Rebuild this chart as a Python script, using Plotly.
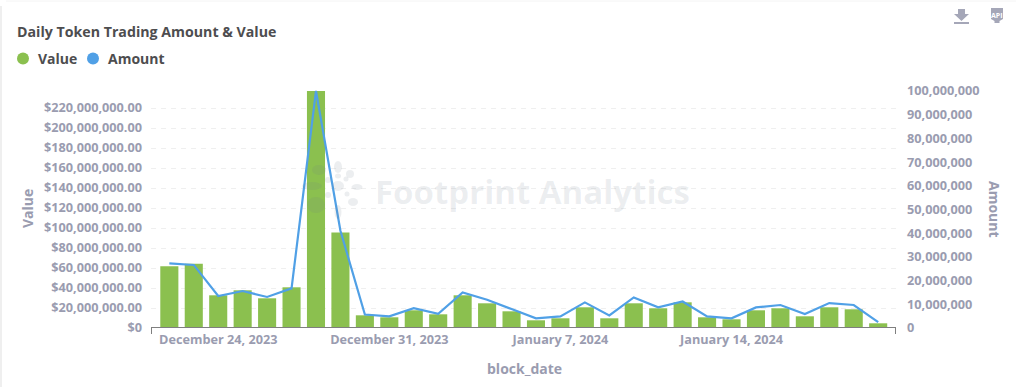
import plotly.graph_objects as go
import pandas as pd

dates = pd.date_range("2023-12-22", "2024-01-20").strftime("%Y-%m-%d").tolist()
value_m = [61.7, 64.3, 32.7, 37.7, 29.7, 40.7, 237, 95.5, 12.7, 10.7, 17.7, 13.7, 32.7, 24.7, 16.7,
           7.7, 9.7, 20.7, 9.7, 24.7, 19.7, 25.7, 10.7, 8.7, 17.7, 19.7, 11.7, 20.7, 18.7, 4.7]
amount_m = [27.3, 26.6, 13.5, 15.6, 13.1, 16.7, 100, 41, 5.7, 4.9, 8.4, 6.0, 15.0, 11.9, 8.0,
            4.1, 4.9, 10.8, 5.3, 12.9, 8.7, 11.2, 4.9, 4.1, 8.7, 9.7, 5.9, 10.5, 9.7, 2.5]
values = [v * 1e6 for v in value_m]
amounts = [a * 1e6 for a in amount_m]
x_tick_vals = ["2023-12-24", "2023-12-31", "2024-01-07", "2024-01-14"]
x_tick_text = ["December 24, 2023", "December 31, 2023", "January 7, 2024", "January 14, 2024"]
left_ticks = list(range(0, 221, 20))
left_text = ["$0"] + [f"${t},000,000.00" for t in left_ticks[1:]]
right_ticks = list(range(0, 101, 10))
right_text = ["0"] + [f"{t},000,000" for t in right_ticks[1:]]

W, H = 1022, 387
FONT = "Open Sans"
GREEN, BLUE, TICK, DARK = "#8bc04f", "#50a0e6", "#9a9cb0", "#4d4d4f"
L, R, T, B = 151, 896, 90, 328
px = lambda x: (x - L) / (R - L)
py = lambda y: (B - y) / (B - T)

fig = go.Figure()
fig.add_bar(x=dates, y=values, name="Value", marker=dict(color=GREEN, line_width=0), yaxis="y")
fig.add_scatter(x=dates, y=amounts, name="Amount", mode="lines", line=dict(color=BLUE, width=2.2), yaxis="y2")

shapes = []
def seg(x0, y0, x1, y1, color, width=1):
    shapes.append(dict(type="line", xref="paper", yref="paper", x0=px(x0), x1=px(x1), y0=py(y0), y1=py(y1),
                       line=dict(color=color, width=width), layer="above"))
def dot(cx, cy, rx, color, ry=None):
    ry = rx if ry is None else ry
    shapes.append(dict(type="circle", xref="paper", yref="paper", x0=px(cx - rx), x1=px(cx + rx), y0=py(cy - ry), y1=py(cy + ry),
                       fillcolor=color, line_width=0, layer="above"))
def poly(points, color):
    path = "M" + " L".join(f"{px(a):.5f},{py(b):.5f}" for a, b in points) + " Z"
    shapes.append(dict(type="path", xref="paper", yref="paper", path=path, fillcolor=color, line_width=0, layer="above"))

# axis line with end ticks
seg(L, B - .5, R, B - .5, "#7f7f7f", 1)
seg(L + .5, B, L + .5, B + 6, "#7f7f7f", 1)
seg(R - .5, B, R - .5, B + 6, "#7f7f7f", 1)
# card edge
seg(1, 6, 1, H, "#efefef", 2)
seg(6, 1, 1016, 1, "#f4f4f4", 1)
# legend dots
dot(23, 58.5, 6, GREEN)
dot(93, 58.5, 6, BLUE)
# download icon
poly([(958, 9), (965, 9), (965, 14), (969, 14), (961.5, 21), (954, 14), (958, 14)], "#a5a7b8")
poly([(954, 22), (969, 22), (969, 24), (954, 24)], "#a5a7b8")
# api badge
poly([(991, 8), (1003, 8), (1003, 19), (999.5, 21), (999.5, 23), (994.5, 23), (994.5, 21), (991, 19)], "#a5a7b8")
# watermark logo
wm = "rgba(110,120,140,0.13)"
for cx, cy, rx, ry in [(319, 170, 7, 5), (312, 186, 10, 4), (316, 205, 9, 8), (338, 167, 4, 6), (350, 174, 4, 4),
                       (357, 187, 5.5, 3), (353, 202, 5, 4), (338, 212, 3.5, 7), (338, 176, 3, 2.5), (346, 179, 2.5, 2.5),
                       (338, 186, 6, 5), (347, 194, 2.5, 2.5), (328, 195, 3, 3), (328, 180, 3, 3)]:
    dot(cx, cy, rx, wm, ry)

ann = []
def label(x, y, text, size, color, anchor="left", angle=0, weight=700):
    ann.append(dict(xref="paper", yref="paper", x=px(x), y=py(y), text=text, showarrow=False, xanchor=anchor, yanchor="middle",
                    textangle=angle, font=dict(family=FONT, size=size, color=color, weight=weight)))
label(15, 31, "Daily Token Trading Amount & Value", 14.2, DARK)
label(35.5, 58.5, "Value", 14, DARK)
label(105.5, 58.5, "Amount", 14, DARK)
label(27, 209, "Value", 14, TICK, "center", -90)
label(995, 209, "Amount", 14, TICK, "center", 90)
label(524, 368, "block_date", 14, TICK, "center")
label(373, 191, "Footprint Analytics", 33, "rgba(110,120,140,0.13)")
label(997, 15, "API", 7, "#ffffff", "center")

fig.update_layout(
    width=W, height=H, autosize=False, showlegend=False, plot_bgcolor="white", paper_bgcolor="white",
    margin=dict(l=L, r=W - R, t=T, b=H - B, pad=0), bargap=0.26, shapes=shapes, annotations=ann,
    font=dict(family=FONT, size=12.7, color=TICK, weight=700),
    xaxis=dict(type="date", range=["2023-12-21 06:00", "2024-01-20 17:30"], tickvals=x_tick_vals, ticktext=x_tick_text,
               showgrid=False, ticks="", zeroline=False, showline=False, ticklabelstandoff=2,
               tickfont=dict(family=FONT, size=12.7, color=TICK, weight=700)),
    yaxis=dict(range=[0, 238e6], tickvals=[t * 1e6 for t in left_ticks], ticktext=left_text, showgrid=True,
               gridcolor="#efefef", griddash="5px,5px", gridwidth=1, zeroline=False, ticks="", ticklabelstandoff=8,
               tickfont=dict(family=FONT, size=12.7, color=TICK, weight=700)),
    yaxis2=dict(overlaying="y", side="right", range=[0, 100.4e6], tickvals=[t * 1e6 for t in right_ticks], ticktext=right_text,
                showgrid=False, zeroline=False, ticks="", ticklabelstandoff=10,
                tickfont=dict(family=FONT, size=12.7, color=TICK, weight=700)),
)
fig.write_html("out.html", config={"displayModeBar": False},
               post_script="document.body.style.margin='0';document.body.style.overflow='hidden';")
